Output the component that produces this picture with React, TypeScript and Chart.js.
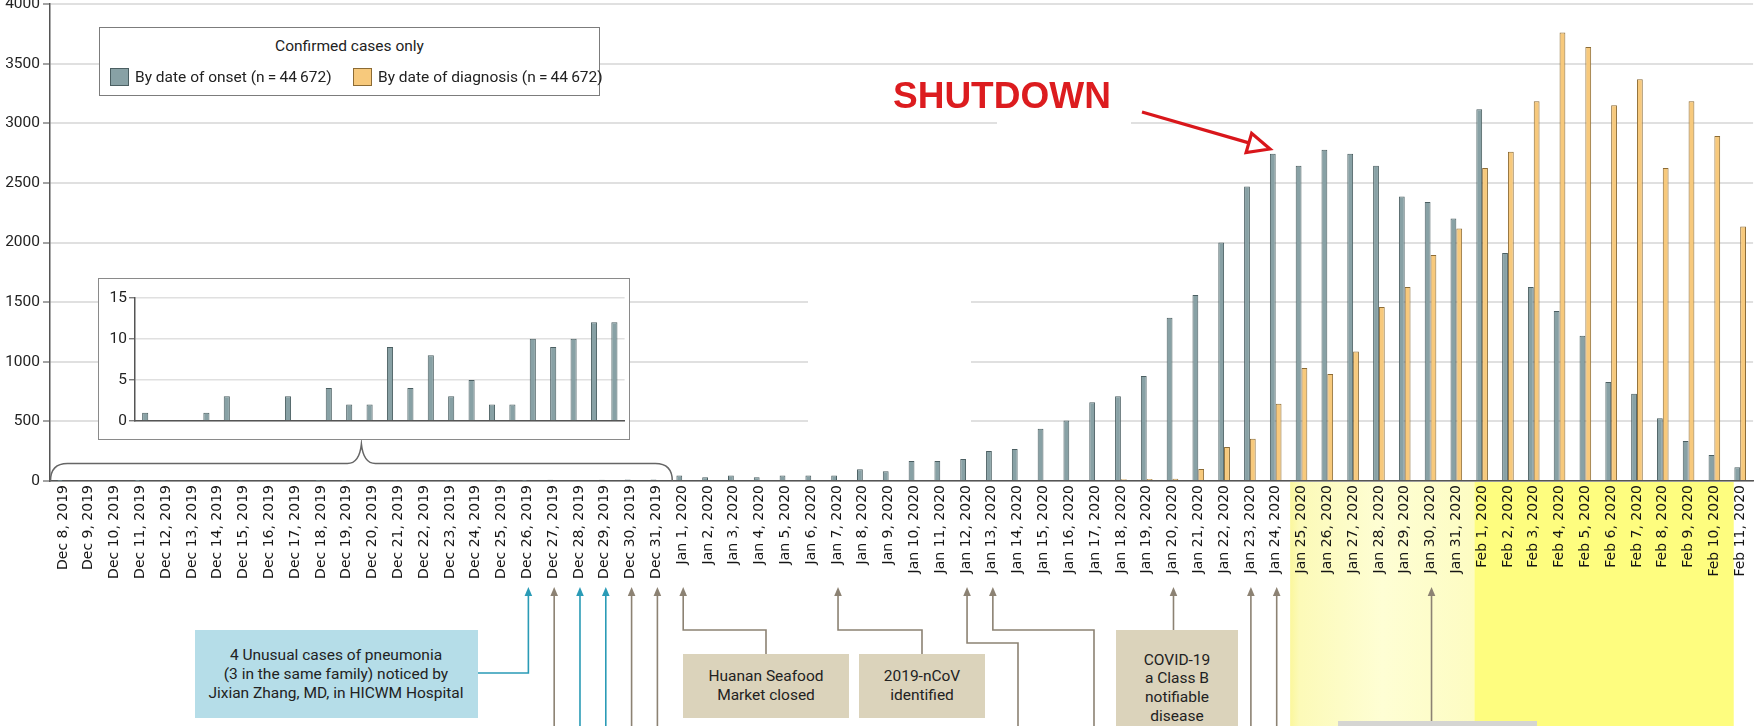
import React, { useEffect, useRef } from 'react';
import { Chart, registerables } from 'chart.js';

Chart.register(...registerables);

// ---------------- DATA ----------------
const categories = [
  'Dec 8, 2019', 'Dec 9, 2019', 'Dec 10, 2019', 'Dec 11, 2019', 'Dec 12, 2019', 'Dec 13, 2019',
  'Dec 14, 2019', 'Dec 15, 2019', 'Dec 16, 2019', 'Dec 17, 2019', 'Dec 18, 2019', 'Dec 19, 2019',
  'Dec 20, 2019', 'Dec 21, 2019', 'Dec 22, 2019', 'Dec 23, 2019', 'Dec 24, 2019', 'Dec 25, 2019',
  'Dec 26, 2019', 'Dec 27, 2019', 'Dec 28, 2019', 'Dec 29, 2019', 'Dec 30, 2019', 'Dec 31, 2019',
  'Jan 1, 2020', 'Jan 2, 2020', 'Jan 3, 2020', 'Jan 4, 2020', 'Jan 5, 2020', 'Jan 6, 2020',
  'Jan 7, 2020', 'Jan 8, 2020', 'Jan 9, 2020', 'Jan 10, 2020', 'Jan 11, 2020', 'Jan 12, 2020',
  'Jan 13, 2020', 'Jan 14, 2020', 'Jan 15, 2020', 'Jan 16, 2020', 'Jan 17, 2020', 'Jan 18, 2020',
  'Jan 19, 2020', 'Jan 20, 2020', 'Jan 21, 2020', 'Jan 22, 2020', 'Jan 23, 2020', 'Jan 24, 2020',
  'Jan 25, 2020', 'Jan 26, 2020', 'Jan 27, 2020', 'Jan 28, 2020', 'Jan 29, 2020', 'Jan 30, 2020',
  'Jan 31, 2020', 'Feb 1, 2020', 'Feb 2, 2020', 'Feb 3, 2020', 'Feb 4, 2020', 'Feb 5, 2020',
  'Feb 6, 2020', 'Feb 7, 2020', 'Feb 8, 2020', 'Feb 9, 2020', 'Feb 10, 2020', 'Feb 11, 2020',
];

const onsetCases = [
  1, 0, 0, 1, 3, 0, 0, 3, 0, 4, 2, 2, 9, 4, 8, 3, 5, 2, 2, 10, 9, 10, 12, 12,
  47, 31, 47, 31, 47, 47, 47, 98, 81, 168, 168, 184, 251, 268, 439, 508, 660, 711, 880,
  1370, 1560, 2000, 2470, 2744, 2643, 2777, 2744, 2643, 2386, 2339, 2202,
  3118, 1912, 1627, 1426, 1219, 831, 731, 527, 335, 218, 115,
];

const diagnosisCases = [
  0, 0, 0, 0, 0, 0, 0, 0, 0, 0, 0, 0, 0, 0, 0, 0, 0, 0, 0, 0, 0, 0, 0, 0,
  0, 0, 0, 0, 0, 0, 0, 0, 0, 0, 0, 0, 0, 0, 0, 0, 0, 15, 17, 18,
  100, 285, 355, 647, 948, 898, 1085, 1459, 1627, 1895, 2118,
  2624, 2760, 3185, 3760, 3640, 3151, 3369, 2624, 3185, 2894, 2135,
];

const insetCount = 24; // Dec 8 – Dec 31
const insetLabels = categories.slice(0, insetCount);
const insetCases = onsetCases.slice(0, insetCount);

const Y_MAX = 4000;
const Y_STEP = 500;
const INSET_MAX = 15;
const INSET_STEP = 5;

const onsetLabel = 'By date of onset (n\u2009=\u200944\u2009672)';
const diagnosisLabel = 'By date of diagnosis (n\u2009=\u200944\u2009672)';

// ---------------- STYLE ----------------
const ONSET_FILL = '#88a1a5';
const ONSET_BORDER = '#4b5f62';
const DIAG_FILL = '#f7c97c';
const DIAG_BORDER = '#8c6b34';
const TEAL = '#2a9bb6';
const BROWN = '#8c8273';
const AXIS = '#555555';
const GRID = '#e0e0e0';
const TOP = 20; // canvas is shifted up so that the 4000 label is clipped

const W = 1761;
const H = 726;

type Step = ['v' | 'h', number];
const timelineEvents: { date: string; color: string; route: Step[] }[] = [
  { date: 'Dec 26, 2019', color: TEAL, route: [['v', 673], ['h', 478]] },
  { date: 'Dec 27, 2019', color: BROWN, route: [['v', 740]] },
  { date: 'Dec 28, 2019', color: TEAL, route: [['v', 740]] },
  { date: 'Dec 29, 2019', color: TEAL, route: [['v', 740]] },
  { date: 'Dec 30, 2019', color: BROWN, route: [['v', 740]] },
  { date: 'Dec 31, 2019', color: BROWN, route: [['v', 740]] },
  { date: 'Jan 1, 2020', color: BROWN, route: [['v', 630], ['h', 766], ['v', 654]] },
  { date: 'Jan 7, 2020', color: BROWN, route: [['v', 630], ['h', 922], ['v', 654]] },
  { date: 'Jan 12, 2020', color: BROWN, route: [['v', 643], ['h', 1018], ['v', 740]] },
  { date: 'Jan 13, 2020', color: BROWN, route: [['v', 630], ['h', 1094], ['v', 740]] },
  { date: 'Jan 20, 2020', color: BROWN, route: [['v', 630]] },
  { date: 'Jan 23, 2020', color: BROWN, route: [['v', 740]] },
  { date: 'Jan 24, 2020', color: BROWN, route: [['v', 740]] },
  { date: 'Jan 30, 2020', color: BROWN, route: [['v', 721]] },
];

const decorPlugin = {
  id: 'decor',
  beforeDraw(chart: any) {
    const { ctx, chartArea, scales } = chart;
    const x = scales.x;
    const y0 = chartArea.bottom + 1;
    const yb = chart.height;
    const l1 = x.getPixelForValue(47.56);
    const l2 = x.getPixelForValue(54.7);
    const l3 = x.getPixelForValue(64.75);
    ctx.save();
    const g = ctx.createLinearGradient(l1, 0, l2, 0);
    g.addColorStop(0, '#fbf79c');
    g.addColorStop(0.05, '#fcfab8');
    g.addColorStop(0.5, '#fefed4');
    g.addColorStop(1, '#fdfcc2');
    ctx.fillStyle = g;
    ctx.fillRect(l1, y0, l2 - l1, yb - y0);
    ctx.fillStyle = '#fefd7f';
    ctx.fillRect(l2, y0, l3 - l2, yb - y0);
    ctx.restore();
  },
  beforeDatasetsDraw(chart: any) {
    const { ctx } = chart;
    ctx.save();
    ctx.fillStyle = '#ffffff';
    ctx.fillRect(808, 260 + TOP, 163, 175);
    ctx.fillRect(997, 100 + TOP, 134, 40);
    ctx.restore();
  },
  afterDraw(chart: any) {
    const { ctx, chartArea, scales } = chart;
    const x = scales.x;
    ctx.save();
    // brace under the inset
    const xL = x.getPixelForValue(-0.5) + 0.5;
    const xR = x.getPixelForValue(23.5) + 3;
    const xc = (xL + xR) / 2;
    const yB = chartArea.bottom;
    const yT = 463.5 + TOP;
    const yTip = 444 + TOP;
    ctx.strokeStyle = '#666';
    ctx.lineWidth = 1.5;
    ctx.beginPath();
    ctx.moveTo(xL, yB);
    ctx.quadraticCurveTo(xL, yT, xL + 17, yT);
    ctx.lineTo(xc - 14, yT);
    ctx.quadraticCurveTo(xc - 2, yT, xc, yTip);
    ctx.quadraticCurveTo(xc + 2, yT, xc + 14, yT);
    ctx.lineTo(xR - 17, yT);
    ctx.quadraticCurveTo(xR, yT, xR, yB);
    ctx.stroke();

    // timeline arrows
    const tip = 587 + TOP;
    timelineEvents.forEach((ev) => {
      const idx = categories.indexOf(ev.date);
      const px = x.getPixelForValue(idx) + 1;
      ctx.strokeStyle = ev.color;
      ctx.fillStyle = ev.color;
      ctx.lineWidth = 1.6;
      ctx.beginPath();
      ctx.moveTo(px, tip + 6);
      let cx = px;
      let cy = tip + 6;
      ev.route.forEach(([d, v]) => {
        if (d === 'v') cy = v + TOP;
        else cx = v;
        ctx.lineTo(cx, cy);
      });
      ctx.stroke();
      ctx.beginPath();
      ctx.moveTo(px, tip);
      ctx.lineTo(px - 3.8, tip + 9);
      ctx.lineTo(px + 3.8, tip + 9);
      ctx.closePath();
      ctx.fill();
    });

    // red arrow pointing at the shutdown date
    const sx = 1142, sy = 112 + TOP, tx = 1270, ty = 149 + TOP;
    const dx = tx - sx, dy = ty - sy;
    const len = Math.hypot(dx, dy);
    const ux = dx / len, uy = dy / len;
    const hl = 22, hw = 10;
    const bx = tx - ux * hl, by = ty - uy * hl;
    ctx.strokeStyle = '#d9161b';
    ctx.lineWidth = 3.2;
    ctx.lineJoin = 'miter';
    ctx.beginPath();
    ctx.moveTo(sx, sy);
    ctx.lineTo(bx, by);
    ctx.stroke();
    ctx.beginPath();
    ctx.moveTo(tx, ty);
    ctx.lineTo(bx - uy * hw, by + ux * hw);
    ctx.lineTo(bx + uy * hw, by - ux * hw);
    ctx.closePath();
    ctx.fillStyle = '#ffffff';
    ctx.fill();
    ctx.stroke();
    ctx.restore();
  },
};

const tickFont = { family: 'Roboto', size: 15.5 };

function mainConfig(): any {
  return {
    type: 'bar',
    data: {
      labels: categories,
      datasets: [
        {
          label: onsetLabel,
          data: onsetCases,
          backgroundColor: ONSET_FILL,
          borderColor: ONSET_BORDER,
          borderWidth: 1,
          categoryPercentage: 0.45,
          barPercentage: 1,
        },
        {
          label: diagnosisLabel,
          data: diagnosisCases,
          backgroundColor: DIAG_FILL,
          borderColor: DIAG_BORDER,
          borderWidth: 1,
          categoryPercentage: 0.45,
          barPercentage: 1,
        },
      ],
    },
    options: {
      animation: false,
      responsive: false,
      maintainAspectRatio: false,
      layout: { padding: { top: 4 + TOP, right: 3, left: 0, bottom: 0 } },
      plugins: { legend: { display: false }, tooltip: { enabled: false } },
      scales: {
        x: {
          grid: { display: false, drawTicks: false },
          border: { color: AXIS, width: 1.5 },
          ticks: {
            autoSkip: false,
            maxRotation: 90,
            minRotation: 90,
            padding: 4,
            color: '#151515',
            font: { family: "'DejaVu Sans'", size: 14 },
          },
          afterFit: (s: any) => {
            s.height = H + TOP - (481 + TOP);
          },
        },
        y: {
          min: 0,
          max: Y_MAX,
          ticks: {
            stepSize: Y_STEP,
            padding: 3,
            color: '#222',
            font: tickFont,
            callback: (v: any) => String(v),
          },
          grid: { color: GRID, lineWidth: 2, tickColor: '#666', tickLength: 7, tickWidth: 1.2 },
          border: { color: AXIS, width: 1.5 },
          afterFit: (s: any) => {
            s.width = 50;
          },
        },
      },
    },
    plugins: [decorPlugin],
  };
}

function insetConfig(): any {
  return {
    type: 'bar',
    data: {
      labels: insetLabels,
      datasets: [
        {
          label: onsetLabel,
          data: insetCases,
          backgroundColor: ONSET_FILL,
          borderColor: ONSET_BORDER,
          borderWidth: 1,
          categoryPercentage: 1,
          barPercentage: 0.3,
        },
      ],
    },
    options: {
      animation: false,
      responsive: false,
      maintainAspectRatio: false,
      layout: { padding: { top: 18.7, right: 4.4, left: 0, bottom: 18 } },
      plugins: { legend: { display: false }, tooltip: { enabled: false } },
      scales: {
        x: {
          ticks: { display: false },
          grid: { display: false, drawTicks: false },
          border: { color: AXIS, width: 1.5 },
          afterFit: (s: any) => {
            s.height = 0;
          },
        },
        y: {
          min: 0,
          max: INSET_MAX,
          ticks: { stepSize: INSET_STEP, padding: 2, color: '#222', font: tickFont },
          grid: { color: GRID, lineWidth: 1.5, tickColor: '#666', tickLength: 6, tickWidth: 1.2 },
          border: { color: AXIS, width: 1.5 },
          afterFit: (s: any) => {
            s.width = 36;
          },
        },
      },
    },
  };
}

const textFont = '15.5px Roboto';

function box(left: number, top: number, width: number, height: number, bg: string): React.CSSProperties {
  return {
    position: 'absolute',
    left,
    top,
    width,
    height,
    background: bg,
    display: 'flex',
    alignItems: 'center',
    justifyContent: 'center',
    textAlign: 'center',
    font: textFont,
    lineHeight: '19px',
    color: '#222',
    boxSizing: 'border-box',
  };
}

export default function App() {
  const mainRef = useRef<HTMLCanvasElement>(null);
  const insetRef = useRef<HTMLCanvasElement>(null);

  useEffect(() => {
    const main = new Chart(mainRef.current as HTMLCanvasElement, mainConfig());
    const inset = new Chart(insetRef.current as HTMLCanvasElement, insetConfig());
    return () => {
      main.destroy();
      inset.destroy();
    };
  }, []);

  return (
    <div
      style={{
        position: 'fixed',
        left: 0,
        top: 0,
        width: W,
        height: H,
        overflow: 'hidden',
        background: '#ffffff',
      }}
    >
      <canvas
        ref={mainRef}
        width={W}
        height={H + TOP}
        style={{ position: 'absolute', left: 0, top: -TOP, width: W, height: H + TOP }}
      />

      {/* legend */}
      <div
        style={{
          position: 'absolute',
          left: 99,
          top: 27,
          width: 501,
          height: 69,
          border: '1px solid #7c7c7c',
          background: '#fff',
          boxSizing: 'border-box',
          font: textFont,
          color: '#222',
          lineHeight: '19px',
        }}
      >
        <div style={{ position: 'absolute', left: 0, right: 0, top: 9, textAlign: 'center' }}>
          Confirmed cases only
        </div>
        <div
          style={{
            position: 'absolute',
            left: 10,
            top: 40,
            width: 19,
            height: 18,
            background: ONSET_FILL,
            border: `1px solid ${ONSET_BORDER}`,
            boxSizing: 'border-box',
          }}
        />
        <div style={{ position: 'absolute', left: 35, top: 39.5, whiteSpace: 'nowrap' }}>{onsetLabel}</div>
        <div
          style={{
            position: 'absolute',
            left: 253,
            top: 40,
            width: 19,
            height: 18,
            background: DIAG_FILL,
            border: `1px solid ${DIAG_BORDER}`,
            boxSizing: 'border-box',
          }}
        />
        <div style={{ position: 'absolute', left: 278, top: 39.5, whiteSpace: 'nowrap' }}>{diagnosisLabel}</div>
      </div>

      {/* inset */}
      <div
        style={{
          position: 'absolute',
          left: 98,
          top: 278,
          width: 532,
          height: 162,
          border: '1px solid #8a8a8a',
          background: '#fff',
          boxSizing: 'border-box',
        }}
      >
        <canvas
          ref={insetRef}
          width={530}
          height={160}
          style={{ position: 'absolute', left: 0, top: 0, width: 530, height: 160 }}
        />
      </div>

      {/* shutdown label */}
      <div
        style={{
          position: 'absolute',
          left: 893,
          top: 77,
          font: "bold 37px 'Liberation Sans', Arial, sans-serif",
          lineHeight: '37px',
          color: '#dc1c1f',
          whiteSpace: 'nowrap',
        }}
      >
        SHUTDOWN
      </div>

      {/* timeline annotations */}
      <div style={box(194.5, 630, 283, 88, '#b5dde8')}>
        <div>
          4 Unusual cases of pneumonia
          <br />
          (3 in the same family) noticed by
          <br />
          Jixian Zhang, MD, in HICWM Hospital
        </div>
      </div>
      <div style={box(683, 654, 166, 64, '#dbd3bb')}>
        <div>
          Huanan Seafood
          <br />
          Market closed
        </div>
      </div>
      <div style={box(859, 654, 126, 64, '#dbd3bb')}>
        <div>
          2019-nCoV
          <br />
          identified
        </div>
      </div>
      <div style={{ ...box(1116, 630, 122, 110, '#dbd3bb'), alignItems: 'flex-start', paddingTop: 20.5, lineHeight: '18.7px' }}>
        <div>
          COVID-19
          <br />
          a Class B
          <br />
          notifiable
          <br />
          disease
        </div>
      </div>
      <div style={{ position: 'absolute', left: 1338, top: 720.5, width: 199, height: 20, background: '#d5d5d2' }} />
    </div>
  );
}
